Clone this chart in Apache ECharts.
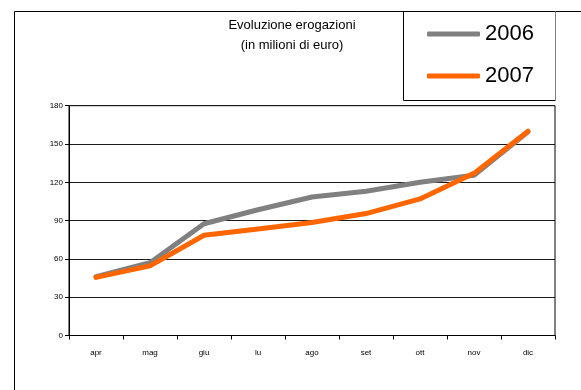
<!DOCTYPE html>
<html>
<head>
<meta charset="utf-8">
<script src="https://cdn.jsdelivr.net/npm/echarts@6/dist/echarts.min.js"></script>
<style>
  html, body { margin: 0; padding: 0; background: #fff; }
  #chart { width: 581px; height: 390px; }
</style>
</head>
<body>
<div id="chart"></div>
<script>
// Monthly disbursements, millions of euro
const months = ['apr', 'mag', 'giu', 'lu', 'ago', 'set', 'ott', 'nov', 'dic'];
const values2006 = [46, 57, 87.5, 98.5, 108.5, 113, 120, 125.5, 159.5];
const values2007 = [45.5, 54.5, 78.5, 83.5, 88.5, 95.5, 107, 127, 160];
const yTicks = [0, 30, 60, 90, 120, 150, 180];

const FONT = '"Liberation Sans", Arial, sans-serif';

const chart = echarts.init(document.getElementById('chart'), null, { renderer: 'canvas' });

chart.setOption({
  backgroundColor: '#fff',
  animation: false,
  title: {
    text: 'Evoluzione erogazioni',
    subtext: '(in milioni di euro)',
    left: 292,
    textAlign: 'center',
    top: 18,
    padding: 0,
    itemGap: 5,
    textStyle: { fontFamily: FONT, fontSize: 13, fontWeight: 'normal', color: '#000', lineHeight: 15 },
    subtextStyle: { fontFamily: FONT, fontSize: 13, color: '#000', lineHeight: 15 }
  },
  legend: {
    orient: 'vertical',
    left: 427,
    top: 22,
    padding: 0,
    icon: 'roundRect',
    itemWidth: 53,
    itemHeight: 5,
    itemGap: 18,
    data: ['2006', '2007'],
    textStyle: { fontFamily: FONT, fontSize: 22, color: '#000', lineHeight: 24 }
  },
  grid: {
    left: 69,
    right: 26,
    top: 105.7,
    bottom: 54.5,
    show: true,
    borderColor: '#000',
    borderWidth: 1
  },
  xAxis: {
    type: 'category',
    data: months,
    boundaryGap: true,
    axisLine: { lineStyle: { color: '#000', width: 1 } },
    axisTick: { show: true, length: 4, lineStyle: { color: '#000' } },
    axisLabel: { fontFamily: FONT, fontSize: 8, color: '#000', margin: 13 }
  },
  yAxis: {
    type: 'value',
    min: yTicks[0],
    max: yTicks[yTicks.length - 1],
    interval: yTicks[1] - yTicks[0],
    axisLine: { show: true, lineStyle: { color: '#000', width: 1 } },
    axisTick: { show: true, length: 4, lineStyle: { color: '#000' } },
    axisLabel: { fontFamily: FONT, fontSize: 8, color: '#000', margin: 6 },
    splitLine: { show: true, lineStyle: { color: '#1a1a1a', width: 1 } }
  },
  series: [
    {
      name: '2006',
      type: 'line',
      data: values2006,
      symbol: 'none',
      color: '#808080',
      lineStyle: { color: '#808080', width: 5, cap: 'round', join: 'round' }
    },
    {
      name: '2007',
      type: 'line',
      data: values2007,
      symbol: 'none',
      color: '#ff6600',
      lineStyle: { color: '#ff6600', width: 5, cap: 'round', join: 'round' }
    }
  ],
  graphic: [
    // outer frame (top and left edges)
    { type: 'line', silent: true, shape: { x1: 14.5, y1: 11.5, x2: 581, y2: 11.5 }, style: { stroke: '#000', lineWidth: 1 } },
    { type: 'line', silent: true, shape: { x1: 14.5, y1: 11.5, x2: 14.5, y2: 390 }, style: { stroke: '#000', lineWidth: 1 } },
    // legend box
    { type: 'line', silent: true, shape: { x1: 403.5, y1: 11.5, x2: 403.5, y2: 100.5 }, style: { stroke: '#000', lineWidth: 1 } },
    { type: 'line', silent: true, shape: { x1: 403.5, y1: 100.5, x2: 555.5, y2: 100.5 }, style: { stroke: '#000', lineWidth: 1 } },
    { type: 'line', silent: true, shape: { x1: 555.5, y1: 11.5, x2: 555.5, y2: 100.5 }, style: { stroke: '#808080', lineWidth: 1 } }
  ]
});
</script>
</body>
</html>
